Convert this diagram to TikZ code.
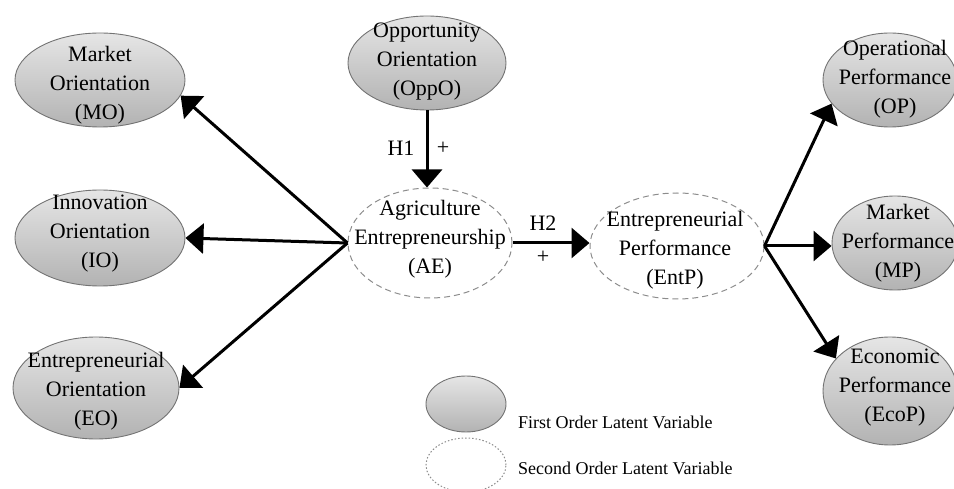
\documentclass[tikz,border=0pt]{standalone}
\usepackage{fontspec}
\setmainfont{Liberation Serif}
\usetikzlibrary{shapes.geometric,arrows.meta}
\begin{document}
\begin{tikzpicture}[x=1pt,y=-1pt,
 first/.style={ellipse, draw=black!55, line width=0.9pt, top color=black!10, bottom color=black!30, inner sep=0pt},
 second/.style={ellipse, draw=black!45, line width=1pt, dash pattern=on 6pt off 4pt, inner sep=0pt},
 legsecond/.style={ellipse, draw=black!45, line width=1pt, dash pattern=on 1.5pt off 2pt, inner sep=0pt},
 txt/.style={align=center, font=\fontsize{22}{29}\selectfont, inner sep=0pt},
 legtxt/.style={anchor=west, font=\fontsize{18}{22}\selectfont, inner sep=0pt},
 arr/.style={line width=3pt, -{Triangle[length=18pt,width=30pt]}},
]
\useasboundingbox (0,0) rectangle (954,489);

% first order ellipses
\node[first, minimum width=170pt, minimum height=94pt] (MO) at (100,80) {};
\node[first, minimum width=170pt, minimum height=96pt] (IO) at (100,238) {};
\node[first, minimum width=166pt, minimum height=102pt] (EO) at (96,388) {};
\node[first, minimum width=158pt, minimum height=94pt] (OppO) at (427,63) {};
\node[first, minimum width=134pt, minimum height=94pt] (OP) at (890,80) {};
\node[first, minimum width=126pt, minimum height=94pt] (MP) at (895,243) {};
\node[first, minimum width=134pt, minimum height=108pt] (EcoP) at (890,391) {};

% second order ellipses
\node[second, minimum width=164pt, minimum height=110pt] (AE) at (430,243) {};
\node[second, minimum width=174pt, minimum height=106pt] (EntP) at (677,246) {};

% texts
\node[txt] (MOt) at (100,85) {Market\\Orientation\\(MO)};
\node[txt] (IOt) at (100,234) {Innovation\\Orientation\\(IO)};
\node[txt] (EOt) at (96,391) {Entrepreneurial\\Orientation\\(EO)};
\node[txt] (OppOt) at (427,62) {Opportunity\\Orientation\\(OppO)};
\node[txt] (OPt) at (895,79) {Operational\\Performance\\(OP)};
\node[txt] (MPt) at (898,243) {Market\\Performance\\(MP)};
\node[txt] (EcoPt) at (895,388) {Economic\\Performance\\(EcoP)};
\node[txt] (AEt) at (430,239) {Agriculture\\Entrepreneurship\\(AE)};
\node[txt] (EntPt) at (675,250) {Entrepreneurial\\Performance\\(EntP)};

% arrows
\draw[arr] (OppO.south) -- (OppO.south |- AE.north);
\draw[arr] (AE.west) -- (MO.-11);
\draw[arr] (AE.west) -- (IO.east);
\draw[arr] (AE.west) -- (EO.east);
\draw[arr] (AE.east) -- (AE.east -| EntP.west);
\draw[arr] (EntP.east) -- (OP.-158);
\draw[arr] (EntP.east) -- (EntP.east -| MP.west);
\draw[arr] (EntP.east) -- (EcoP.149);

% hypothesis labels
\node[txt] (H1) at (401,148) {H1};
\node[txt] (H1p) at (443,148) {+};
\node[txt] (H2) at (543,223) {H2};
\node[txt] (H2p) at (543,257) {+};

% legend
\node[first, minimum width=80pt, minimum height=56pt] (L1) at (466,404) {};
\node[legsecond, minimum width=80pt, minimum height=54pt] (L2) at (466,465) {};
\node[legtxt] (L1t) at (518,422) {First Order Latent Variable};
\node[legtxt] (L2t) at (518,468) {Second Order Latent Variable};
\end{tikzpicture}
\end{document}
